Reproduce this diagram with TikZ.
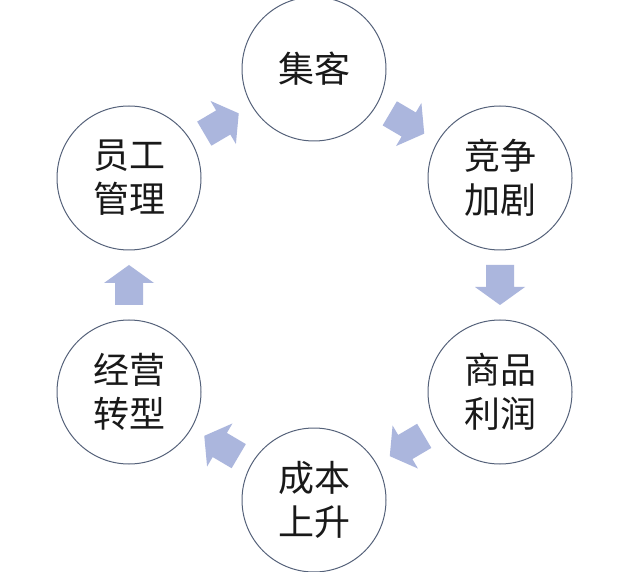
\documentclass[tikz,border=0pt]{standalone}
\usepackage{fontspec}
\newfontfamily\cjk{Noto Sans CJK SC}
\usetikzlibrary{calc}
\definecolor{circlecol}{HTML}{55627A}
\definecolor{arrowcol}{HTML}{ABB6DD}
\begin{document}
\begin{tikzpicture}[x=1pt,y=1pt]
\useasboundingbox (0,0) rectangle (640,571);
\fill[white] (0,0) rectangle (640,571);
\tikzset{
  stage/.style={circle, draw=circlecol, line width=1pt, fill=white,
    minimum size=144pt, inner sep=0pt, align=center, text=black!90,
    font=\cjk\fontsize{36}{44}\selectfont},
  barrow/.pic={\fill[arrowcol] (-20,-14) -- (2,-14) -- (2,-25) -- (20,0) -- (2,25) -- (2,14) -- (-20,14) -- cycle;}
}
\node[stage] (a) at (314,502) {集客};
\node[stage] (b) at (500,393) {竞争\\加剧};
\node[stage] (c) at (500,179) {商品\\利润};
\node[stage] (d) at (314,71) {成本\\上升};
\node[stage] (e) at (129,179) {经营\\转型};
\node[stage] (f) at (129,393) {员工\\管理};
\pic[rotate=30.5] at ($(f)!0.5!(a)$) {barrow};
\pic[rotate=-30.5] at ($(a)!0.5!(b)$) {barrow};
\pic[rotate=-90] at ($(b)!0.5!(c)$) {barrow};
\pic[rotate=-149.5] at ($(c)!0.5!(d)$) {barrow};
\pic[rotate=149.5] at ($(d)!0.5!(e)$) {barrow};
\pic[rotate=90] at ($(e)!0.5!(f)$) {barrow};
\end{tikzpicture}
\end{document}
